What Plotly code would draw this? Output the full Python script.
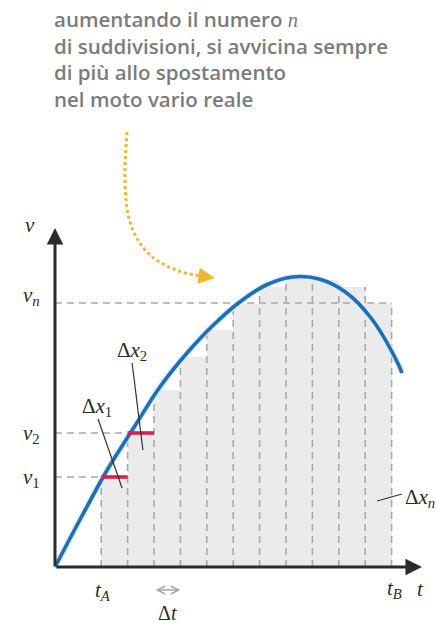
import numpy as np
import plotly.graph_objects as go

# --- data (t in units of Δt, v in arbitrary velocity units) ---
T_A = 1.75          # start of the interval
DT = 1.0            # width of one subdivision
N_SUB = 11          # number of subdivisions n

# rectangle heights (velocity at the left end of each subdivision)
bar_heights = [9.0, 13.4, 17.7, 21.0, 23.7, 26.3, 28.0, 28.8, 28.7, 28.0, 26.4]

# sampled points of the real velocity curve v(t)
curve_t = [0, 1, 2, 3, 4, 5, 6, 7, 8, 9, 10, 11, 12, 13, 13.14]
curve_v = [0.0, 5.0, 9.8, 14.0, 18.1, 21.4, 24.2, 26.5, 28.2, 29.0, 28.8, 27.5, 24.8, 20.3, 19.4]

# path of the dotted callout arrow
callout_t = [2.73, 2.65, 2.69, 2.84, 3.14, 3.60, 4.17, 4.81, 5.49, 5.90]
callout_v = [43.5, 39.7, 36.7, 34.5, 32.7, 31.2, 30.2, 29.5, 29.1, 28.95]

# axis extents
T_MAX = 13.9
V_MAX = 33.9

caption_lines = [
    "aumentando il numero <span style='font-family:Liberation Serif;font-weight:normal'><i>n</i></span>",
    "di suddivisioni, si avvicina sempre",
    "di più allo spostamento",
    "nel moto vario reale",
]

# --- derived geometry ---
edges = T_A + DT * np.arange(N_SUB + 1)
centers = edges[:-1] + DT / 2
t_B = edges[-1]
v1, v2, vn = bar_heights[0], bar_heights[1], bar_heights[-1]

GRID = "#a9a9a9"
INK = "#2a2a2a"
SERIF = "Liberation Serif"

fig = go.Figure()

# rectangles
fig.add_trace(go.Bar(x=centers, y=bar_heights, width=DT, marker=dict(color="#ebebeb", line_width=0),
                     hoverinfo="skip"))

# dashed guide lines
gx, gy = [], []
for i, e in enumerate(edges):
    left = bar_heights[i - 1] if i > 0 else 0
    right = bar_heights[i] if i < N_SUB else 0
    gx += [e, e, None]
    gy += [0, max(left, right), None]
gx += [0, edges[0], None, 0, edges[1], None, 0, t_B]
gy += [v1, v1, None, v2, v2, None, vn, vn]
fig.add_trace(go.Scatter(x=gx, y=gy, mode="lines", line=dict(color=GRID, width=1.6, dash="7px,5px"),
                         hoverinfo="skip"))

# real velocity curve
fig.add_trace(go.Scatter(x=curve_t, y=curve_v, mode="lines",
                         line=dict(color="#dbeaf7", width=6, shape="spline", smoothing=1.0),
                         hoverinfo="skip"))
fig.add_trace(go.Scatter(x=curve_t, y=curve_v, mode="lines",
                         line=dict(color="#1a6fb8", width=3.6, shape="spline", smoothing=1.0),
                         hoverinfo="skip"))

# red tops of the first two rectangles
for k in range(2):
    fig.add_trace(go.Scatter(x=[edges[k], edges[k + 1]], y=[bar_heights[k]] * 2, mode="lines",
                             line=dict(color="#e31b52", width=3.6), hoverinfo="skip"))

# leader lines for the Δx labels
leaders = [([1.63, 2.54], [14.8, 7.9]), ([2.92, 3.33], [20.4, 11.7]), ([12.2, 13.14], [6.6, 7.3])]
for lx, ly in leaders:
    fig.add_trace(go.Scatter(x=lx, y=ly, mode="lines", line=dict(color="#333333", width=1.2),
                             hoverinfo="skip"))

# dotted callout
fig.add_trace(go.Scatter(x=callout_t, y=callout_v, mode="lines",
                         line=dict(color="#f3b52c", width=3, dash="dot", shape="spline"), hoverinfo="skip"))

ann = []
# axes with arrowheads
ann.append(dict(x=T_MAX, y=0, ax=0, ay=0, xref="x", yref="y", axref="x", ayref="y", text="",
                showarrow=True, arrowhead=2, arrowsize=1.1, arrowwidth=3, arrowcolor=INK))
ann.append(dict(x=0, y=V_MAX, ax=0, ay=0, xref="x", yref="y", axref="x", ayref="y", text="",
                showarrow=True, arrowhead=2, arrowsize=1.1, arrowwidth=3, arrowcolor=INK))
# callout arrowhead
ann.append(dict(x=callout_t[-1] + 0.15, y=callout_v[-1] - 0.05, ax=callout_t[-2], ay=callout_v[-2],
                xref="x", yref="y", axref="x", ayref="y", text="", showarrow=True,
                arrowhead=2, arrowsize=1.3, arrowwidth=2.5, arrowcolor="#f3b52c", standoff=0))
# Δt double arrow spanning one subdivision
ann.append(dict(x=edges[3], y=-2.3, ax=edges[2], ay=-2.3, xref="x", yref="y", axref="x", ayref="y",
                text="", showarrow=True, arrowhead=5, startarrowhead=5, arrowside="end+start",
                arrowsize=1.2, startarrowsize=1.2, arrowwidth=1.3, arrowcolor="#a8a8a8"))


def label(x, y, text, size=21, xanchor="center"):
    ann.append(dict(x=x, y=y, xref="x", yref="y", text=text, showarrow=False, xanchor=xanchor,
                    yanchor="middle", font=dict(family=SERIF, size=size, color=INK)))


label(-0.95, 34.2, "<i>v</i>")
label(-0.9, vn + 0.7, "<i>v</i><sub><i>n</i></sub>")
label(-0.9, v2 - 0.1, "<i>v</i><sub>2</sub>")
label(-0.9, v1 - 0.1, "<i>v</i><sub>1</sub>")
label(edges[0] + 0.08, -2.4, "<i>t</i><sub><i>A</i></sub>")
label(t_B + 0.1, -2.2, "<i>t</i><sub><i>B</i></sub>")
label(T_MAX - 0.05, -2.2, "<i>t</i>")
label((edges[2] + edges[3]) / 2, -4.6, "Δ<i>t</i>", size=20)
label(1.58, 16.0, "Δ<i>x</i><sub>1</sub>")
label(2.92, 21.6, "Δ<i>x</i><sub>2</sub>")
label(13.2, 6.9, "Δ<i>x</i><sub><i>n</i></sub>", xanchor="left")

# caption
ann.append(dict(x=52 / 436, y=1, xref="paper", yref="paper", xanchor="left", yanchor="top",
                yshift=-3, text="<br>".join(caption_lines), showarrow=False, align="left",
                font=dict(family="Open Sans", size=20.5, color="#7b7b7b", weight=600)))

x_lo, x_hi = -55 / 26.4, (436 - 55) / 26.4
y_lo, y_hi = -(626 - 567) / 10, 567 / 10

fig.update_layout(
    width=436, height=626, margin=dict(l=0, r=0, t=0, b=0),
    paper_bgcolor="white", plot_bgcolor="white", showlegend=False,
    xaxis=dict(range=[x_lo, x_hi], visible=False, fixedrange=True),
    yaxis=dict(range=[y_lo, y_hi], visible=False, fixedrange=True),
    bargap=0, annotations=ann,
)

fig.write_html("out.html")
